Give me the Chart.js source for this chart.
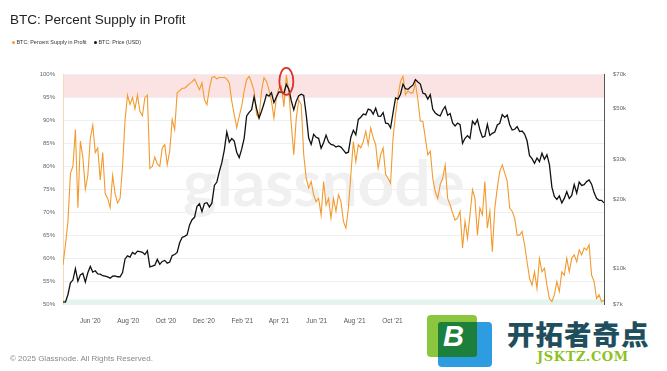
<!DOCTYPE html>
<html>
<head>
<meta charset="utf-8">
<script src="https://cdn.jsdelivr.net/npm/chart.js@4.4.1/dist/chart.umd.min.js"></script>
<style>
  html, body { margin: 0; padding: 0; background: #fff; }
  body { width: 667px; height: 371px; position: relative; overflow: hidden; font-family: "Liberation Sans", Arial, sans-serif; }
  #c { position: absolute; left: 0; top: 0; }
  #title { position: absolute; left: 10px; top: 13px; font-size: 13.5px; line-height: 1; color: #222; white-space: nowrap; }
  .lg { position: absolute; top: 40px; font-size: 5.4px; line-height: 1; color: #333; white-space: nowrap; }
  .lg i { display: inline-block; width: 3px; height: 3px; border-radius: 50%; margin-right: 1.5px; vertical-align: 0.3px; }
  #footer { position: absolute; left: 10px; top: 355px; font-size: 8px; line-height: 1; color: #888; white-space: nowrap; }
  #logo { position: absolute; left: 414px; top: 311px; width: 253px; height: 60px; background: #fff; }
  #logo .sq1 { position: absolute; left: 13px; top: 4px; width: 50px; height: 42px; background: #8cc63f; border-radius: 4px; }
  #logo .sq2 { position: absolute; left: 24px; top: 11px; width: 54px; height: 45px; background: #2d9ce0; border-radius: 4px; }
  #logo .sq3 { position: absolute; left: 24px; top: 11px; width: 39px; height: 35px; background: #1c7f3b; border-radius: 3px 0 3px 0; }
  #logo .b { position: absolute; left: 29px; top: 9px; font: italic bold 29px "Liberation Sans", Arial, sans-serif; color: #fff; }
  #logo .cn { position: absolute; left: 93px; top: 7px; font: 900 27.5px "Noto Sans CJK SC", sans-serif; line-height: 1.1; color: #1f4f5c; white-space: nowrap; letter-spacing: 1px; }
  #logo .en { position: absolute; left: 123px; top: 38px; font: bold 13px "DejaVu Serif", serif; letter-spacing: 0.6px; color: #8dc21f; white-space: nowrap; }
</style>
</head>
<body>
<canvas id="c" width="667" height="371"></canvas>
<div id="title">BTC: Percent Supply in Profit</div>
<div class="lg" style="left:12px"><i style="background:#f39a2e"></i>BTC: Percent Supply in Profit</div>
<div class="lg" style="left:94px"><i style="background:#111"></i>BTC: Price (USD)</div>
<div id="footer">© 2025 Glassnode. All Rights Reserved.</div>
<div id="logo">
  <div class="sq1"></div><div class="sq2"></div><div class="sq3"></div>
  <div class="b">B</div>
  <div class="cn">开拓者奇点</div>
  <div class="en">JSKTZ.COM</div>
</div>
<script>
// one point every 4 days from 18 Apr 2020
const START = Date.UTC(2020, 3, 18);
const STEP_DAYS = 4;
const DAY = 86400000;
const X_MAX = 872;

// BTC: Percent Supply in Profit (%)
const supplyInProfit = [
  58.5, 63, 68, 78.5, 80, 88, 71, 85.5, 82, 75, 78, 86, 89, 83, 84, 77, 83, 74, 73, 71,
  78, 74, 72, 73, 80, 90, 95.5, 93.5, 95, 92.5, 95.5, 92, 91, 95, 95.5, 79.5, 80, 82, 80.5, 80,
  84, 84.7, 80.3, 83.3, 90.2, 88, 96, 96.5, 97, 97, 97.5, 98, 98.4, 99, 97.8, 96.7, 98.2, 94.5, 93.4, 97,
  99.3, 99.6, 99, 99.4, 99.3, 99.4, 99, 98.2, 94.2, 91.3, 88.4, 90.9, 93.1, 96.4, 98.9, 99.6, 98.2, 96.4, 91.3, 90.5,
  96.4, 99.3, 98.5, 96.7, 94.2, 90.5, 95, 97, 97.5, 93, 99.8, 96.4, 89.1, 82.5, 90.5, 94.5, 93.4, 82.5, 77.4, 75.3,
  76.7, 73.8, 72.3, 73, 69.4, 76.7, 71.6, 73, 68.7, 73, 70.2, 73.8, 72.3, 68, 66.5, 70.9, 78.2, 85.4, 81, 84.7,
  84, 85.4, 87.6, 84.7, 88.4, 86.2, 84.7, 79.6, 82.5, 84, 78.2, 77.4, 76.3, 86.2, 91.3, 95.3, 98.5, 99.6, 95.6, 96.4,
  96, 96, 98.2, 94.5, 89.8, 89.8, 86.2, 82.5, 83.3, 77.4, 74.5, 73, 76, 77.4, 80.3, 73, 71.6, 69.8, 68.3, 68.7,
  70.2, 62.2, 68, 64.3, 69.4, 74.9, 73, 65, 70.9, 69.4, 76.7, 66.5, 70.2, 61.4, 70.9, 75.3, 78.9, 80.3, 78.5, 76.7,
  70.9, 70.2, 68.7, 65, 65, 65.8, 62.9, 59.2, 55.6, 54.1, 57, 53.4, 59.9, 57, 57.8, 54.1, 51.2, 50.5, 52, 54.9,
  52.7, 57, 56.3, 60, 57, 60, 60.7, 59.2, 61.8, 60.7, 62.2, 61.8, 62.9, 56.3, 54.9, 51.2, 52, 50.5, 50.8
];

// BTC: Price (USD)
const priceUsd = [
  7150, 7130, 7700, 8650, 8900, 9980, 8800, 9380, 9520, 8720, 9580, 10200, 9650, 9770, 9470, 9450, 9300, 9250, 9180, 9070,
  9250, 9280, 9200, 9200, 9600, 11000, 11350, 11200, 11750, 11550, 11900, 11850, 11750, 11500, 11950, 10150, 10230, 10330, 10950, 10420,
  10730, 10840, 10550, 10670, 11380, 11500, 11750, 12930, 13650, 13800, 14000, 15480, 16300, 16700, 18650, 19150, 17700, 19200, 19350, 18540,
  19250, 23000, 23800, 26400, 28900, 32800, 39300, 35500, 36800, 35900, 32100, 30400, 33100, 36900, 46200, 47900, 49200, 56000, 49700, 45200,
  48400, 52300, 57300, 56400, 58300, 52800, 55800, 58800, 58700, 58100, 63500, 60400, 53800, 49100, 53600, 56600, 57400, 56700, 46800, 37000,
  34700, 38400, 37300, 36900, 33400, 35300, 38100, 35600, 34700, 34500, 33800, 34200, 33800, 32800, 31800, 32100, 37300, 40000, 38200, 44600,
  45600, 47100, 46700, 49500, 49000, 47100, 49900, 46100, 46000, 47800, 43000, 42800, 41000, 47700, 55300, 54700, 57400, 63500, 60700, 60300,
  61800, 62900, 66500, 64900, 63600, 58100, 57500, 54700, 57200, 49400, 47600, 46700, 46200, 48900, 50800, 46500, 47300, 43100, 41800, 43000,
  42300, 35100, 36900, 37900, 36900, 43800, 42400, 44500, 40100, 37300, 37700, 42500, 38000, 38800, 39300, 42200, 42900, 46800, 45500, 46600,
  42300, 40100, 40400, 41500, 39500, 39700, 38500, 36000, 31000, 30100, 28700, 30300, 29200, 31800, 29900, 31300, 28400, 22600, 20600, 20000,
  20700, 19300, 20200, 21600, 20200, 20800, 23200, 21300, 23800, 23000, 23200, 23900, 24300, 23300, 21400, 20200, 19800, 19800, 19300
];

const xTickDates = ['2020-06-01', '2020-08-01', '2020-10-01', '2020-12-01', '2021-02-01', '2021-04-01', '2021-06-01',
  '2021-08-01', '2021-10-01', '2021-12-01', '2022-02-01', '2022-04-01', '2022-06-01', '2022-08-01'];
const xTickLabels = ["Jun '20", "Aug '20", "Oct '20", "Dec '20", "Feb '21", "Apr '21", "Jun '21",
  "Aug '21", "Oct '21", "Dec '21", "Feb '22", "Apr '22", "Jun '22", "Aug '22"];
const priceTicks = [7000, 10000, 20000, 30000, 50000, 70000];
const priceTickLabels = ['$7k', '$10k', '$20k', '$30k', '$50k', '$70k'];

const redBand = [95, 100];
const greenBand = [50, 51];
const markedPoint = { date: '2021-04-13', pct: 98.5 };

const dayOf = (d) => (Date.parse(d) - START) / DAY;
const toPoints = (arr) => arr.map((v, i) => ({ x: i * STEP_DAYS, y: v }));

const bandsPlugin = {
  id: 'bands',
  beforeDraw(chart) {
    const { ctx, chartArea: a, scales: { y } } = chart;
    ctx.save();
    ctx.fillStyle = 'rgba(251, 222, 222, 0.85)';
    let t = y.getPixelForValue(redBand[1]), b = y.getPixelForValue(redBand[0]);
    ctx.fillRect(a.left, t, a.width, b - t);
    ctx.fillStyle = 'rgba(226, 243, 237, 0.95)';
    t = y.getPixelForValue(greenBand[1]);
    b = y.getPixelForValue(greenBand[0]);
    ctx.fillRect(a.left, t, a.width, b - t);
    ctx.restore();
  }
};

const watermarkPlugin = {
  id: 'watermark',
  beforeDatasetsDraw(chart) {
    const { ctx } = chart;
    ctx.save();
    ctx.font = 'bold 64px Lato, sans-serif';
    ctx.fillStyle = '#f0f0f0';
    ctx.textBaseline = 'alphabetic';
    ctx.fillText('glassnode', 183, 206);
    ctx.restore();
  }
};

const circlePlugin = {
  id: 'circle',
  afterDatasetsDraw(chart) {
    const { ctx, scales: { x, y } } = chart;
    const cx = x.getPixelForValue(dayOf(markedPoint.date));
    const cy = y.getPixelForValue(markedPoint.pct);
    ctx.save();
    ctx.strokeStyle = '#d8322b';
    ctx.lineWidth = 1.8;
    ctx.beginPath();
    ctx.ellipse(cx, cy, 7, 13.5, 0, 0, Math.PI * 2);
    ctx.stroke();
    ctx.restore();
  }
};

const tickFont = { family: '"Liberation Sans", Arial, sans-serif', size: 6 };

new Chart(document.getElementById('c'), {
  type: 'line',
  data: {
    datasets: [
      {
        label: 'BTC: Percent Supply in Profit',
        data: toPoints(supplyInProfit),
        yAxisID: 'y',
        borderColor: '#f39a2e',
        borderWidth: 1.1,
        pointRadius: 0,
        tension: 0,
        order: 2
      },
      {
        label: 'BTC: Price (USD)',
        data: toPoints(priceUsd),
        yAxisID: 'y2',
        borderColor: '#111',
        borderWidth: 1.3,
        pointRadius: 0,
        tension: 0,
        order: 1
      }
    ]
  },
  options: {
    responsive: false,
    animation: false,
    events: [],
    layout: { padding: { top: 74.5, left: 0, right: 0, bottom: 0 } },
    plugins: { legend: { display: false }, tooltip: { enabled: false } },
    scales: {
      x: {
        type: 'linear',
        min: 0,
        max: X_MAX,
        grid: { display: false },
        border: { display: false },
        afterBuildTicks: (s) => { s.ticks = xTickDates.map((d) => ({ value: dayOf(d) })); },
        afterFit: (s) => { s.height = 67; },
        ticks: {
          autoSkip: false,
          maxRotation: 0,
          padding: 5,
          color: '#555',
          font: { ...tickFont, size: 6.5 },
          callback: (v, i) => xTickLabels[i]
        }
      },
      y: {
        position: 'left',
        min: 50,
        max: 100,
        grid: { color: '#efefef', drawTicks: false },
        border: { color: '#f6d9b8' },
        afterFit: (s) => { s.width = 63; },
        ticks: {
          stepSize: 5,
          padding: 8,
          color: '#666',
          font: tickFont,
          callback: (v) => v + '%'
        }
      },
      y2: {
        type: 'logarithmic',
        position: 'right',
        min: 7000,
        max: 70000,
        grid: { display: false, drawTicks: false },
        border: { color: '#555' },
        afterBuildTicks: (s) => { s.ticks = priceTicks.map((v) => ({ value: v })); },
        afterFit: (s) => { s.width = 63; },
        ticks: {
          padding: 9,
          color: '#666',
          font: tickFont,
          callback: (v, i) => priceTickLabels[i]
        }
      }
    }
  },
  plugins: [bandsPlugin, watermarkPlugin, circlePlugin]
});
</script>
</body>
</html>
